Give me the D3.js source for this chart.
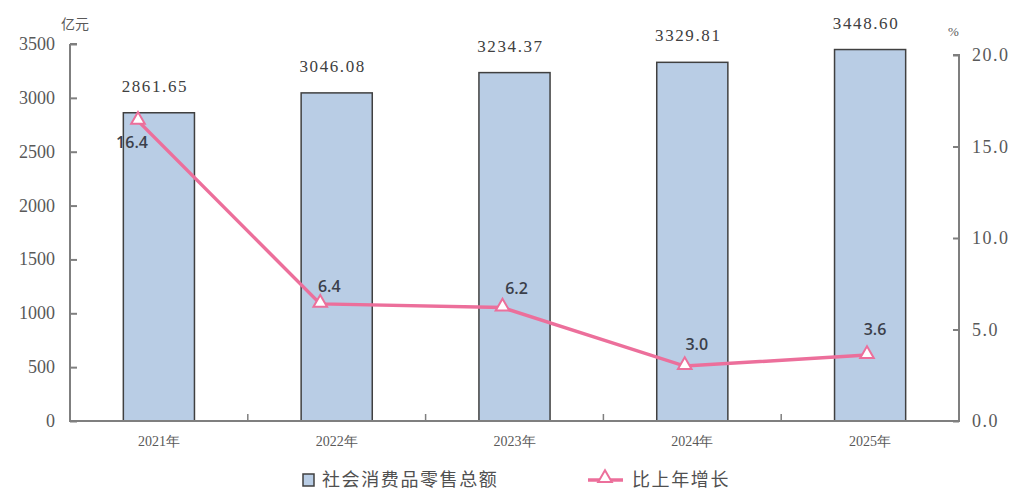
<!DOCTYPE html>
<html><head><meta charset="utf-8">
<script src="https://cdn.jsdelivr.net/npm/d3@7/dist/d3.min.js"></script>
<style>
html,body{margin:0;padding:0;background:#fff;}
svg{display:block;}
</style></head>
<body>
<svg id="c" width="1024" height="492"></svg>
<script>
const years = ["2021年","2022年","2023年","2024年","2025年"];
const retail = [2861.65, 3046.08, 3234.37, 3329.81, 3448.60];
const growth = [16.4, 6.4, 6.2, 3.0, 3.6];
const leftTicks = [0,500,1000,1500,2000,2500,3000,3500];
const rightTicks = [0,5,10,15,20];
const legendNames = ["社会消费品零售总额","比上年增长"];

const svg = d3.select("#c");
const x0 = 70, x1 = 959, yBase = 421;
const serif = "Liberation Serif, DejaVu Serif, serif";
const sans = "Open Sans, DejaVu Sans, sans-serif";
const cjk = "Noto Sans CJK SC, sans-serif";
const axisCol = "#7f7f7f", textCol = "#595959";
const barFill = "#b9cde5", barStroke = "#404040";
const lineCol = "#ec6f9b";

const x = d3.scaleBand().domain(years).range([x0, x1]).paddingInner(0.6).paddingOuter(0.3);
const xCat = d3.scaleBand().domain(years).range([x0, x1]);
const xLine = d3.scalePoint().domain(years).range([138, 867]);
const yL = d3.scaleLinear().domain([0,3500]).range([yBase, 44]);
const yR = d3.scaleLinear().domain([0,20]).range([yBase, 55]);

// bars
svg.append("g").selectAll("rect").data(years).join("rect")
  .attr("x", d => x(d)).attr("width", x.bandwidth())
  .attr("y", (d,i) => yL(retail[i])).attr("height", (d,i) => yBase - yL(retail[i]))
  .attr("fill", barFill).attr("stroke", barStroke).attr("stroke-width", 1.5);

// bar labels
svg.append("g").selectAll("text").data(years).join("text")
  .attr("x", d => x(d) + x.bandwidth()/2 - 4)
  .attr("y", (d,i) => yL(retail[i]) - 21)
  .attr("text-anchor","middle")
  .attr("font-family", serif).attr("font-size", 17).attr("letter-spacing", 1.6)
  .attr("fill", "#404040")
  .text((d,i) => retail[i].toFixed(2));

// left axis
const gL = svg.append("g").attr("transform", `translate(${x0},0)`);
gL.call(d3.axisRight(yL).tickValues(leftTicks).tickSize(7).tickFormat(""));
gL.selectAll("path,line").attr("stroke", axisCol).attr("stroke-width", 2);
gL.select(".domain").attr("d", `M0,${yL(3500)}H7M0,${yL(3500)}V${yBase}`);
svg.append("g").selectAll("text").data(leftTicks).join("text")
  .attr("x", 55).attr("y", d => yL(d) + 6)
  .attr("text-anchor","end").attr("font-family", serif).attr("font-size", 18)
  .attr("fill", textCol).text(d => d);

// right axis
const gR = svg.append("g").attr("transform", `translate(${x1},0)`);
gR.call(d3.axisLeft(yR).tickValues(rightTicks).tickSize(6).tickFormat(""));
gR.selectAll("path,line").attr("stroke", axisCol).attr("stroke-width", 2);
gR.select(".domain").attr("d", `M-6,${yR(20)}H0V${yBase}`);
svg.append("g").selectAll("text").data(rightTicks).join("text")
  .attr("x", 972).attr("y", d => yR(d) + 6)
  .attr("text-anchor","start").attr("font-family", serif).attr("font-size", 18)
  .attr("letter-spacing", 1.5)
  .attr("fill", textCol).text(d => d.toFixed(1));

// x axis
const gX = svg.append("g").attr("transform", `translate(0,${yBase})`);
gX.append("line").attr("x1", x0 - 1).attr("x2", x1 + 1).attr("stroke", axisCol).attr("stroke-width", 2);
gX.selectAll("line.t").data(years.slice(1)).join("line").attr("class","t")
  .attr("x1", d => xCat(d)).attr("x2", d => xCat(d)).attr("y1", 0).attr("y2", -7)
  .attr("stroke", axisCol).attr("stroke-width", 1.5);
gX.selectAll("text").data(years).join("text")
  .attr("x", d => x(d) + x.bandwidth()/2).attr("y", 25)
  .attr("text-anchor","middle").attr("font-family", serif).attr("font-size", 14)
  .attr("fill", textCol).text(d => d);

// units
svg.append("text").attr("x", 61).attr("y", 29).attr("font-family", cjk).attr("font-size", 14)
  .attr("fill", textCol).text("亿元");
svg.append("text").attr("x", 948).attr("y", 36).attr("font-family", serif).attr("font-size", 13)
  .attr("fill", textCol).text("%");

// line
const tri = d3.symbol().type(d3.symbolTriangle).size(80);
svg.append("path").datum(years)
  .attr("d", d3.line().x(d => xLine(d)).y((d,i) => yR(growth[i])))
  .attr("fill","none").attr("stroke", lineCol).attr("stroke-width", 3.5);
svg.append("g").selectAll("path").data(years).join("path")
  .attr("transform", (d,i) => `translate(${xLine(d)},${yR(growth[i]) - 1})`)
  .attr("d", tri).attr("fill", "#fff").attr("stroke", lineCol).attr("stroke-width", 2);

// line labels
const lblDx = [-6, 9, 14, 12, 8];
const lblDy = [27, -12, -14, -16, -20];
svg.append("g").selectAll("text").data(years).join("text")
  .attr("x", (d,i) => xLine(d) + lblDx[i]).attr("y", (d,i) => yR(growth[i]) + lblDy[i])
  .attr("text-anchor","middle").attr("font-family", sans).attr("font-size", 16)
  .attr("font-weight", 600).attr("fill", "#3b3f4a")
  .text((d,i) => growth[i].toFixed(1));

// legend
const lg = svg.append("g");
lg.append("rect").attr("x", 303).attr("y", 474).attr("width", 11).attr("height", 12)
  .attr("fill", barFill).attr("stroke", barStroke).attr("stroke-width", 1.5);
lg.append("text").attr("x", 322).attr("y", 486).attr("font-family", cjk).attr("font-size", 18)
  .attr("letter-spacing", 1.6).attr("fill", "#505050").text(legendNames[0]);
lg.append("line").attr("x1", 588).attr("x2", 623).attr("y1", 480).attr("y2", 480)
  .attr("stroke", lineCol).attr("stroke-width", 3.5);
lg.append("path").attr("transform", "translate(605,478)").attr("d", tri)
  .attr("fill", "#fff").attr("stroke", lineCol).attr("stroke-width", 2);
lg.append("text").attr("x", 632).attr("y", 486).attr("font-family", cjk).attr("font-size", 18)
  .attr("letter-spacing", 1.6).attr("fill", "#505050").text(legendNames[1]);
</script>
</body></html>
